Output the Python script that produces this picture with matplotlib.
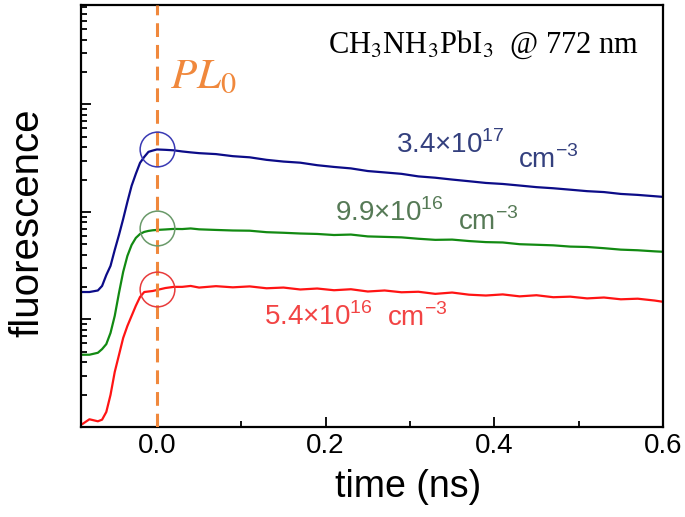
import matplotlib.pyplot as plt
from matplotlib.ticker import LogLocator, NullFormatter, MultipleLocator

# time axis (ns), shared by the three traces
time_ns = [-0.088, -0.08, -0.07, -0.065, -0.06, -0.055, -0.05, -0.045, -0.04, -0.035,
           -0.03, -0.025, -0.02, -0.015, -0.01, -0.005, 0.0, 0.01, 0.02,
           0.03, 0.04, 0.05, 0.07, 0.09, 0.11, 0.13, 0.15, 0.17, 0.19, 0.21,
           0.23, 0.25, 0.27, 0.29, 0.31, 0.33, 0.35, 0.37, 0.39, 0.41, 0.43,
           0.45, 0.47, 0.49, 0.51, 0.53, 0.55, 0.57, 0.59, 0.6]

pl_high = [18.0, 18.0, 18.6, 20.5, 25.9, 31.5, 44.3, 61, 86, 124,
           175, 226, 286, 325, 362, 372, 381, 378, 374,
           365, 358, 352, 345, 330, 322, 305, 294, 287, 272, 262,
           254, 240, 233, 226, 214, 208, 200, 193, 186, 182, 176,
           170, 166, 161, 156, 153, 147, 144, 140, 138]

pl_mid = [4.7, 4.7, 4.9, 5.3, 5.9, 7.5, 10.8, 17.6, 27.7, 39.0,
          49.3, 57.3, 62.4, 65.2, 66.6, 67.5, 68.0, 68.7, 69.5,
          69.3, 70.2, 68.9, 68.0, 67.2, 66.9, 64.8, 64.0, 63.0, 62.4, 61.0,
          61.6, 59.2, 58.6, 58.0, 56.3, 55.0, 55.3, 53.6, 52.4, 52.0, 50.1,
          49.5, 48.9, 47.6, 47.2, 46.0, 44.6, 44.0, 43.0, 42.6]

pl_low = [1.07, 1.18, 1.13, 1.17, 1.38, 1.99, 3.25, 4.67, 6.73, 8.7,
          10.8, 13.4, 16.2, 18.0, 18.2, 18.4, 18.8, 19.6, 20.1,
          20.1, 20.5, 19.8, 20.4, 19.9, 20.3, 19.5, 19.8, 19.0, 19.4, 18.7,
          19.1, 18.2, 18.6, 17.9, 18.1, 17.3, 17.8, 17.0, 16.7, 17.1, 16.4,
          16.8, 16.1, 16.3, 15.7, 16.0, 15.4, 15.6, 15.0, 14.6]

pl0_values = [381, 70.3, 19.0]
density_nums = ["3.4×10$^{17}$", "9.9×10$^{16}$", "5.4×10$^{16}$"]
density_unit = "cm$^{-3}$"

plt.rcParams["mathtext.fontset"] = "custom"
plt.rcParams["mathtext.rm"] = "Liberation Sans"
plt.rcParams["font.family"] = "Liberation Sans"

line_colors = ["#0c0c88", "#128a12", "#ff1414"]
circle_colors = ["#3a3ab4", "#6a9a6a", "#e83c3c"]
text_colors = ["#34407e", "#567a56", "#f24444"]
orange = "#f0883c"

fig = plt.figure(figsize=(6.85, 5.17), dpi=100)
ax = fig.add_axes([81 / 685, 90 / 517, 582 / 685, 422 / 517])

for ys, c in zip([pl_high, pl_mid, pl_low], line_colors):
    ax.plot(time_ns, ys, color=c, lw=1.6)

ax.axvline(0.0, color=orange, lw=2.2, ls=(0, (4.5, 2.6)), zorder=3)
for v, c in zip(pl0_values, circle_colors):
    ax.plot([0.0], [v], ls="none", marker="o", ms=25, mfc="none", mec=c,
            mew=1.1, zorder=4)

ax.set_yscale("log")
ax.set_xlim(-0.09, 0.6)
ax.set_ylim(1.0, 8400)
ax.yaxis.set_major_locator(LogLocator(base=10))
ax.yaxis.set_minor_locator(LogLocator(base=10, subs=range(2, 10)))
ax.yaxis.set_major_formatter(NullFormatter())
ax.yaxis.set_minor_formatter(NullFormatter())
ax.xaxis.set_major_locator(MultipleLocator(0.2))
ax.xaxis.set_minor_locator(MultipleLocator(0.1))
ax.tick_params(which="both", direction="in", top=False, right=False, width=1.3)
ax.tick_params(which="major", length=7, labelsize=20, pad=4)
ax.tick_params(which="minor", length=4)
for sp in ax.spines.values():
    sp.set_linewidth(1.6)

ax.set_xlabel("time (ns)", fontsize=27)
ax.xaxis.set_label_coords(0.562, -0.10)
ax.set_ylabel("fluorescence", fontsize=29)
ax.yaxis.set_label_coords(-0.059, 0.483)

ax.text(0.153, 0.803, "$PL_0$", transform=ax.transAxes, color=orange,
        fontsize=31, math_fontfamily="stix")
ax.text(0.424, 0.886, r"CH$_3$NH$_3$PbI$_3$  @ 772 nm", transform=ax.transAxes,
        fontsize=22, family="Liberation Serif", math_fontfamily="stix")

# number part and unit part sit on slightly different baselines in the original
num_pos = [(0.541, 0.649), (0.436, 0.488), (0.314, 0.242)]
unit_pos = [(0.751, 0.614), (0.648, 0.467), (0.526, 0.239)]
for (nx, ny), (ux, uy), txt, c in zip(num_pos, unit_pos, density_nums, text_colors):
    ax.text(nx, ny, txt, transform=ax.transAxes, color=c, fontsize=20)
    ax.text(ux, uy, density_unit, transform=ax.transAxes, color=c, fontsize=20)

fig.savefig("out.png", dpi=100)
